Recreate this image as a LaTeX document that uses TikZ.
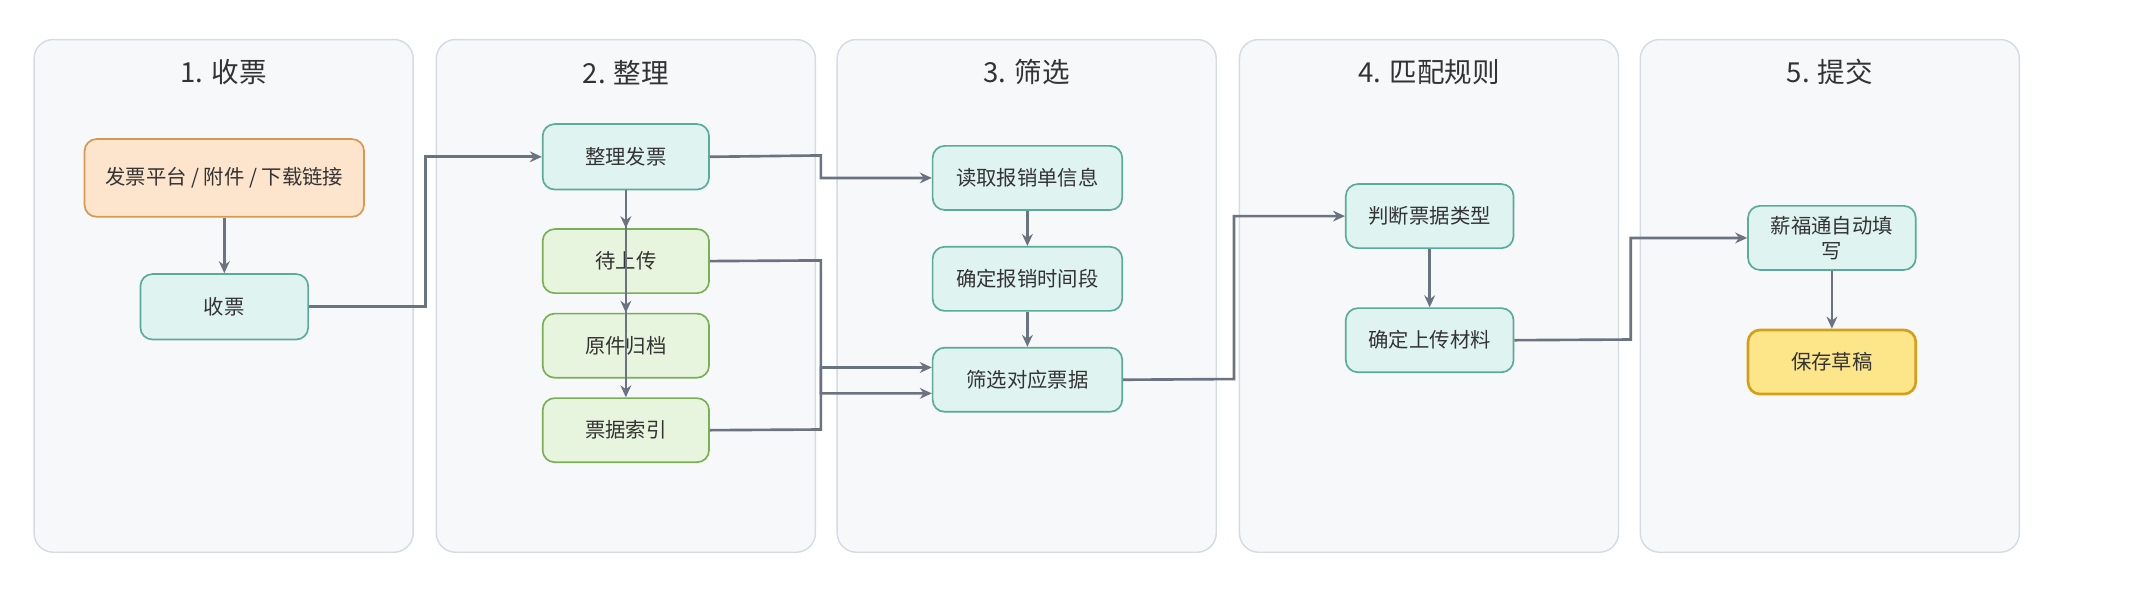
\documentclass[tikz,border=0pt]{standalone}
\usepackage{fontspec}
\setmainfont{Noto Sans CJK SC}
\usetikzlibrary{arrows.meta}
\definecolor{lanef}{HTML}{F7F8FA}\definecolor{laned}{HTML}{D5DBE3}
\definecolor{tf}{HTML}{DFF4F0}\definecolor{td}{HTML}{5AAB9A}
\definecolor{gf}{HTML}{E8F5DE}\definecolor{gd}{HTML}{7AB055}
\definecolor{of}{HTML}{FDE4CC}\definecolor{od}{HTML}{D9974F}
\definecolor{yf}{HTML}{FDE68A}\definecolor{yd}{HTML}{D4A017}
\definecolor{ed}{HTML}{6B7280}\definecolor{tx}{HTML}{333333}
\tikzset{
 lane/.style={draw=laned,fill=lanef,rounded corners=8pt,line width=0.6pt},
 ttl/.style={font=\fontsize{11.5}{13}\selectfont,text=tx},
 box/.style={rounded corners=5pt,line width=0.7pt,align=center,font=\fontsize{8.5}{10.5}\selectfont,text=tx,inner sep=1pt},
 tb/.style={box,draw=td,fill=tf},
 gb/.style={box,draw=gd,fill=gf},
 ob/.style={box,draw=od,fill=of},
 yb/.style={box,draw=yd,fill=yf,line width=1.1pt},
 ar/.style={draw=ed,line width=1.1pt,-{Stealth[length=5pt,width=4.5pt]}}
}
\begin{document}
\begin{tikzpicture}[x=0.02cm,y=-0.02cm]
\useasboundingbox[fill=white] (0,0) rectangle (1568,442);
\foreach \a/\t [count=\i] in {25/1. 收票,320/2. 整理,614/3. 筛选,909/4. 匹配规则,1203/5. 提交}{
 \draw[lane] (\a,29) rectangle (\a+278,405);
 \node[ttl] (t\i) at (\a+139,53) {\t};
}
\newcommand\bx[7]{\node[#1,minimum width={(#4-#3)*0.02cm},minimum height={(#6-#5)*0.02cm}] (#2) at ({(#3+#4)/2},{(#5+#6)/2}) {#7};}
\bx{ob}{src}{62}{267}{102}{159}{发票平台 / 附件 / 下载链接}
\bx{tb}{sp}{103}{226}{201}{249}{收票}
\bx{tb}{zl}{398}{520}{91}{139}{整理发票}
\bx{gb}{dsc}{398}{520}{168}{215}{待上传}
\bx{gb}{gd}{398}{520}{230}{277}{原件归档}
\bx{gb}{sy}{398}{520}{292}{339}{票据索引}
\bx{tb}{dq}{684}{823}{107}{154}{读取报销单信息}
\bx{tb}{qd}{684}{823}{181}{228}{确定报销时间段}
\bx{tb}{sx}{684}{823}{255}{302}{筛选对应票据}
\bx{tb}{pd}{987}{1110}{135}{182}{判断票据类型}
\bx{tb}{cl}{987}{1110}{226}{273}{确定上传材料}
\bx{tb}{xf}{1282}{1405}{151}{198}{薪福通自动填\\写}
\bx{yb}{bc}{1282}{1405}{242}{289}{保存草稿}
\draw[ar] (src) -- (sp);
\draw[ar] (sp.east) -- (312,225) |- (zl.west);
\draw[ar] (zl.south) -- (dsc.north);
\draw[ar] (459,139) -- (gd.north);
\draw[ar] (459,139) -- (sy.north);
\draw[ar] (zl.east) -- (602,114) |- (dq.west);
\draw[ar] (dsc.east) -- (602,191) |- ([yshift=-0.2cm]sx.west);
\draw[ar] (sy.east) -- (602,315) |- ([yshift=0.18cm]sx.west);
\draw[ar] (dq) -- (qd);
\draw[ar] (qd) -- (sx);
\draw[ar] (sx.east) -- (905,278) |- (pd.west);
\draw[ar] (pd) -- (cl);
\draw[ar] (cl.east) -- (1196,249) |- (xf.west);
\draw[ar] (xf) -- (bc);
\end{tikzpicture}
\end{document}
